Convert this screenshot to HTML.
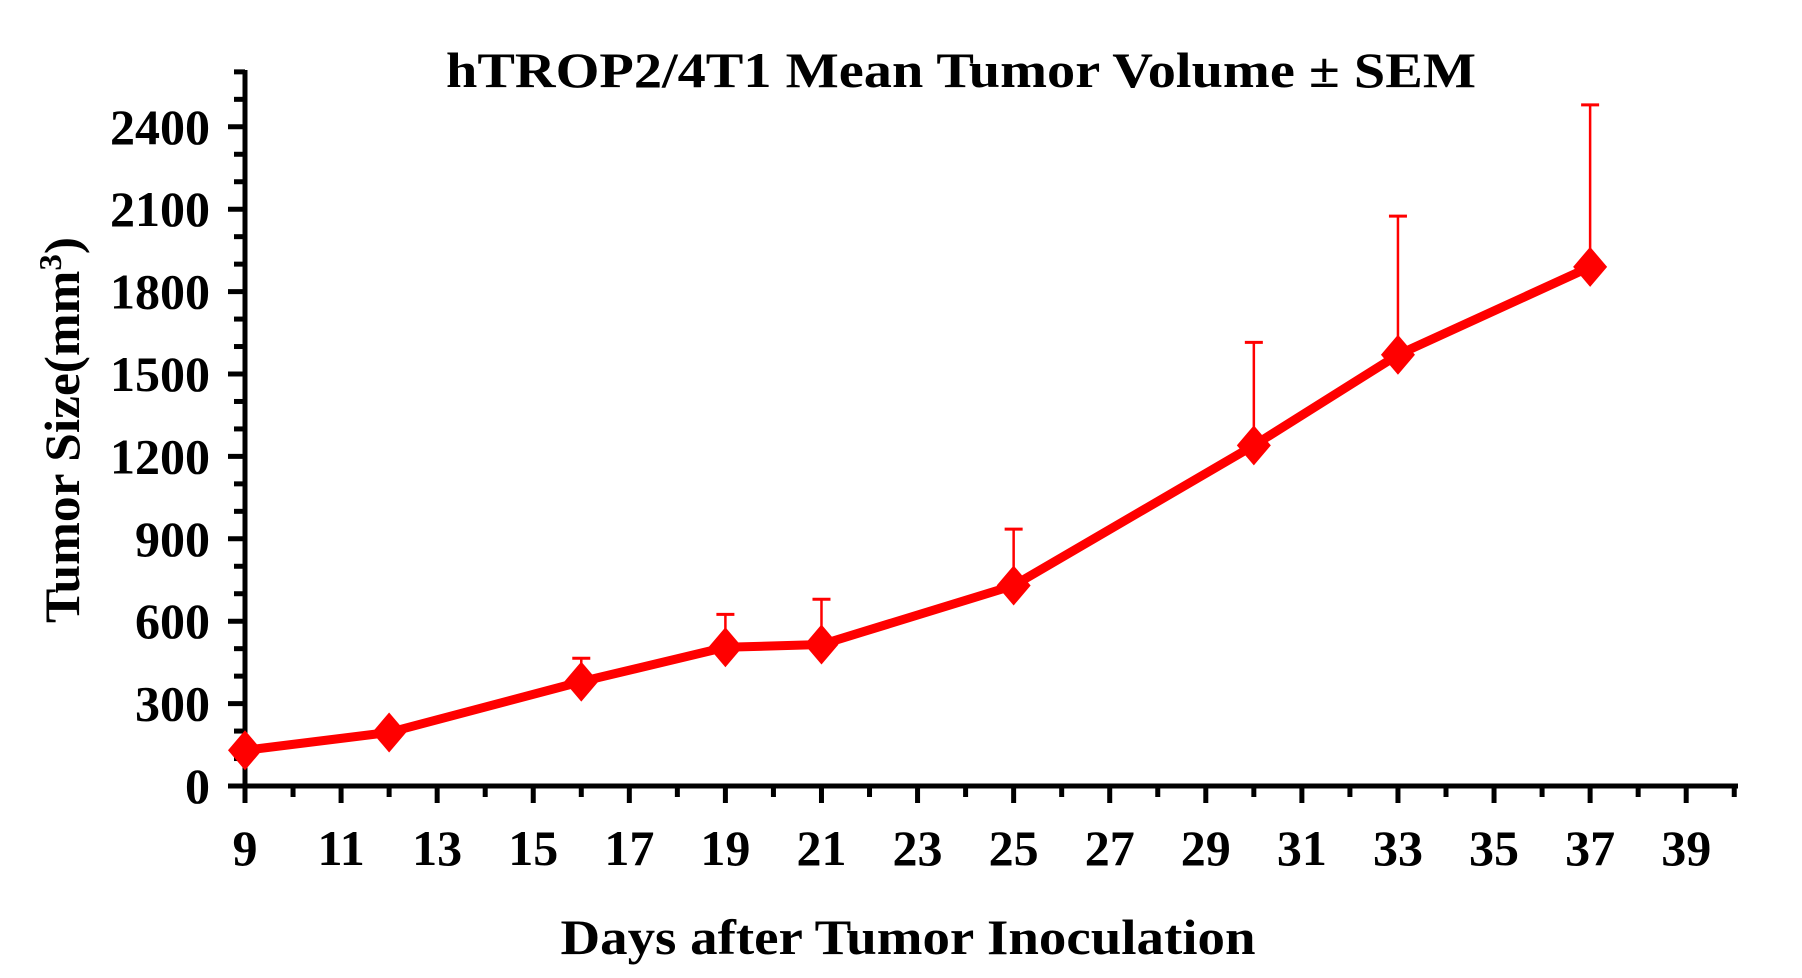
<!DOCTYPE html>
<html><head><meta charset="utf-8"><style>
html,body{margin:0;padding:0;background:#fff;}
svg{display:block;font-family:"Liberation Serif",serif;font-weight:bold;}
</style></head><body>
<svg width="1802" height="978" viewBox="0 0 1802 978" xmlns="http://www.w3.org/2000/svg">
<rect width="1802" height="978" fill="#fff"/>
<text x="961" y="87" font-size="50" text-anchor="middle" textLength="1030" lengthAdjust="spacingAndGlyphs">hTROP2/4T1 Mean Tumor Volume ± SEM</text>
<text x="908" y="954" font-size="50" text-anchor="middle" textLength="695" lengthAdjust="spacingAndGlyphs">Days after Tumor Inoculation</text>
<text transform="translate(79,430) rotate(-90)" font-size="50" text-anchor="middle" textLength="386" lengthAdjust="spacingAndGlyphs">Tumor Size(mm<tspan dy="-18" font-size="32">3</tspan><tspan dy="18">)</tspan></text>
<g stroke="#000" stroke-width="5" fill="none">
<line x1="245" y1="70" x2="245" y2="788"/>
<line x1="243" y1="786" x2="1738" y2="786"/>
</g>
<g stroke="#000" stroke-width="5" id="yt"></g>
<g stroke="#000" stroke-width="5" id="xt"></g>
<g font-size="50" text-anchor="end" id="yl"></g>
<g font-size="50" text-anchor="middle" id="xl"></g>
<g id="series"></g>
<script>
var ns="http://www.w3.org/2000/svg";
function el(p,t,a,txt){var e=document.createElementNS(ns,t);for(var k in a)e.setAttribute(k,a[k]);if(txt!==undefined)e.textContent=txt;document.getElementById(p).appendChild(e);return e;}
function Y(v){return 786-v/300*82.4;}
function X(d){return 245+(d-9)*48.04;}
for(var v=0;v<=2600;v+=100){var y=Y(v);var maj=(v%300==0);el('yt','line',{x1:245,y1:y,x2:maj?228:234,y2:y});
 if(maj)el('yl','text',{x:210,y:y+17},String(v));}
for(var d=9;d<=40;d++){var x=X(d);var maj=(d%2==1);el('xt','line',{x1:x,y1:786,x2:x,y2:maj?803:797});
 if(maj)el('xl','text',{x:x,y:865},String(d));}
var data=[[9,130,null],[12,195,null],[16,380,465],[19,505,625],[21,515,680],[25,730,935],[30,1240,1615],[33,1570,2075],[37,1890,2480]];
data.forEach(function(p){if(p[2]!==null){var x=X(p[0]);el('series','line',{x1:x,y1:Y(p[1]),x2:x,y2:Y(p[2]),stroke:'#f00','stroke-width':2.5});
 el('series','line',{x1:x-9,y1:Y(p[2]),x2:x+9,y2:Y(p[2]),stroke:'#f00','stroke-width':3});}});
el('series','polyline',{points:data.map(function(p){return X(p[0])+','+Y(p[1]);}).join(' '),fill:'none',stroke:'#f00','stroke-width':9,'stroke-linejoin':'round'});
data.forEach(function(p){var x=X(p[0]),y=Y(p[1]);el('series','polygon',{points:(x)+','+(y-20)+' '+(x+17)+','+y+' '+x+','+(y+20)+' '+(x-17)+','+y,fill:'#f00'});});
</script>
</svg>
</body></html>
